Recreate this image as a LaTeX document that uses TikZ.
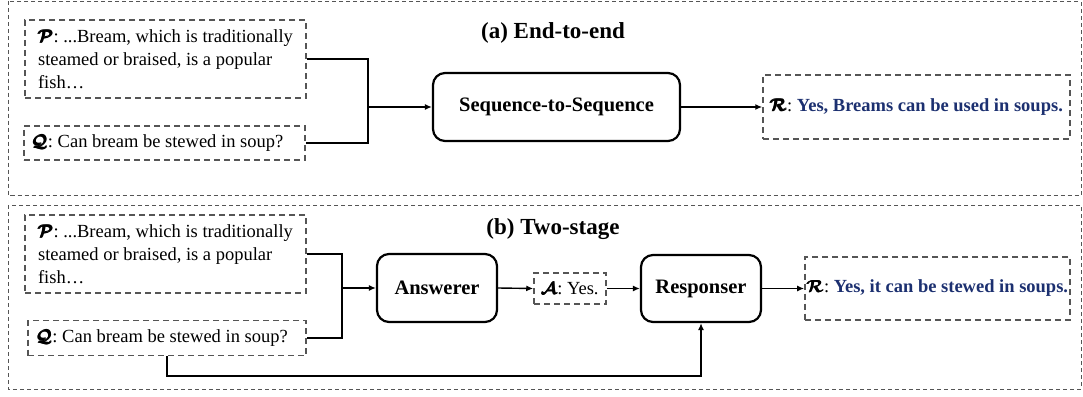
\documentclass[tikz,border=0pt]{standalone}
\usepackage{amsmath}
\usepackage{fontspec}
\setmainfont{Liberation Serif}
\usetikzlibrary{arrows.meta}
\definecolor{navy}{RGB}{28,48,112}
\definecolor{dgray}{RGB}{85,85,85}
\frenchspacing
\newcommand{\bodyfs}{\fontsize{18.5}{23}\selectfont}
\newcommand{\titlefs}{\fontsize{23}{27}\selectfont\bfseries}
\newcommand{\modfs}{\fontsize{20.5}{24}\selectfont\bfseries}
\newcommand{\symb}[1]{{\boldmath$\pmb{\mathcal{#1}}$}}
\begin{document}
\begin{tikzpicture}[x=1pt,y=-1pt,
  panel/.style={draw=dgray, line width=1pt, dash pattern=on 4pt off 3pt},
  txtbox/.style={draw=dgray, line width=1.5pt, dash pattern=on 6pt off 4pt, font=\bodyfs, inner ysep=2pt},
  modbox/.style={draw=black, line width=2.2pt, rounded corners=12pt, font=\modfs},
  conn/.style={draw=black, line width=1.4pt},
  arr/.style={conn, -{Latex[length=7pt,width=6pt]}},
  title/.style={font=\titlefs, inner sep=0pt}]
\useasboundingbox (0,0) rectangle (1083,396);
% panels
\draw[panel] (8,1.5) rectangle (1081,195);
\draw[panel] (8,205) rectangle (1081,389);
% (a)
\node[title] (ta) at (553,33) {(a) End-to-end};
\node[txtbox, minimum width=281pt, minimum height=78pt, align=left] (Pa) at (165.5,59)
  {\symb{P}: ...Bream, which is traditionally\\steamed or braised, is a popular\\fish\ldots};
\node[txtbox, minimum width=281pt, minimum height=34pt, align=left] (Qa) at (164.5,143)
  {\symb{Q}: Can bream be stewed in soup?\hspace*{14pt}};
\node[modbox, minimum width=247pt, minimum height=68pt] (seq) at (556.5,107) {Sequence-to-Sequence};
\node[txtbox, minimum width=307pt, minimum height=64pt] (Ra) at (916.5,107)
  {\symb{R}: \textcolor{navy}{\bfseries Yes, Breams can be used in soups.}};
\coordinate (ja) at (368,107);
\draw[conn] (Pa.east) -| (ja) |- (Qa.east);
\draw[arr] (ja) -- (seq.west);
\draw[arr] (seq.east) -- (Ra.west);
% (b)
\node[title] (tb) at (553,229) {(b) Two-stage};
\node[txtbox, minimum width=281pt, minimum height=78pt, align=left] (Pb) at (165.5,254)
  {\symb{P}: ...Bream, which is traditionally\\steamed or braised, is a popular\\fish\ldots};
\node[txtbox, minimum width=278pt, minimum height=35pt, align=left] (Qb) at (167,338)
  {\symb{Q}: Can bream be stewed in soup?\hspace*{10pt}};
\node[modbox, minimum width=120pt, minimum height=68pt] (ans) at (437,288) {Answerer};
\node[txtbox, minimum width=72pt, minimum height=31pt, inner xsep=3pt] (A) at (570,288.5)
  {\symb{A}: Yes.};
\node[modbox, minimum width=120pt, minimum height=67pt] (resp) at (701,288.5) {Responser};
\node[txtbox, minimum width=263pt, minimum height=63pt, inner xsep=2pt] (Rb) at (937.5,288.5)
  {\symb{R}: \textcolor{navy}{\bfseries Yes, it can be stewed in soups.}};
\coordinate (jb) at (342,288);
\coordinate (qs) at (167,376);
\draw[conn] (Pb.east) -| (jb) |- (Qb.east);
\draw[arr] (jb) -- (ans.west);
\draw[arr] (ans.east) -- (A.west);
\draw[arr] (A.east) -- (resp.west);
\draw[arr] (resp.east) -- (Rb.west);
\draw[arr] (Qb.south -| qs) -- (qs) -| (resp.south);
\end{tikzpicture}
\end{document}
